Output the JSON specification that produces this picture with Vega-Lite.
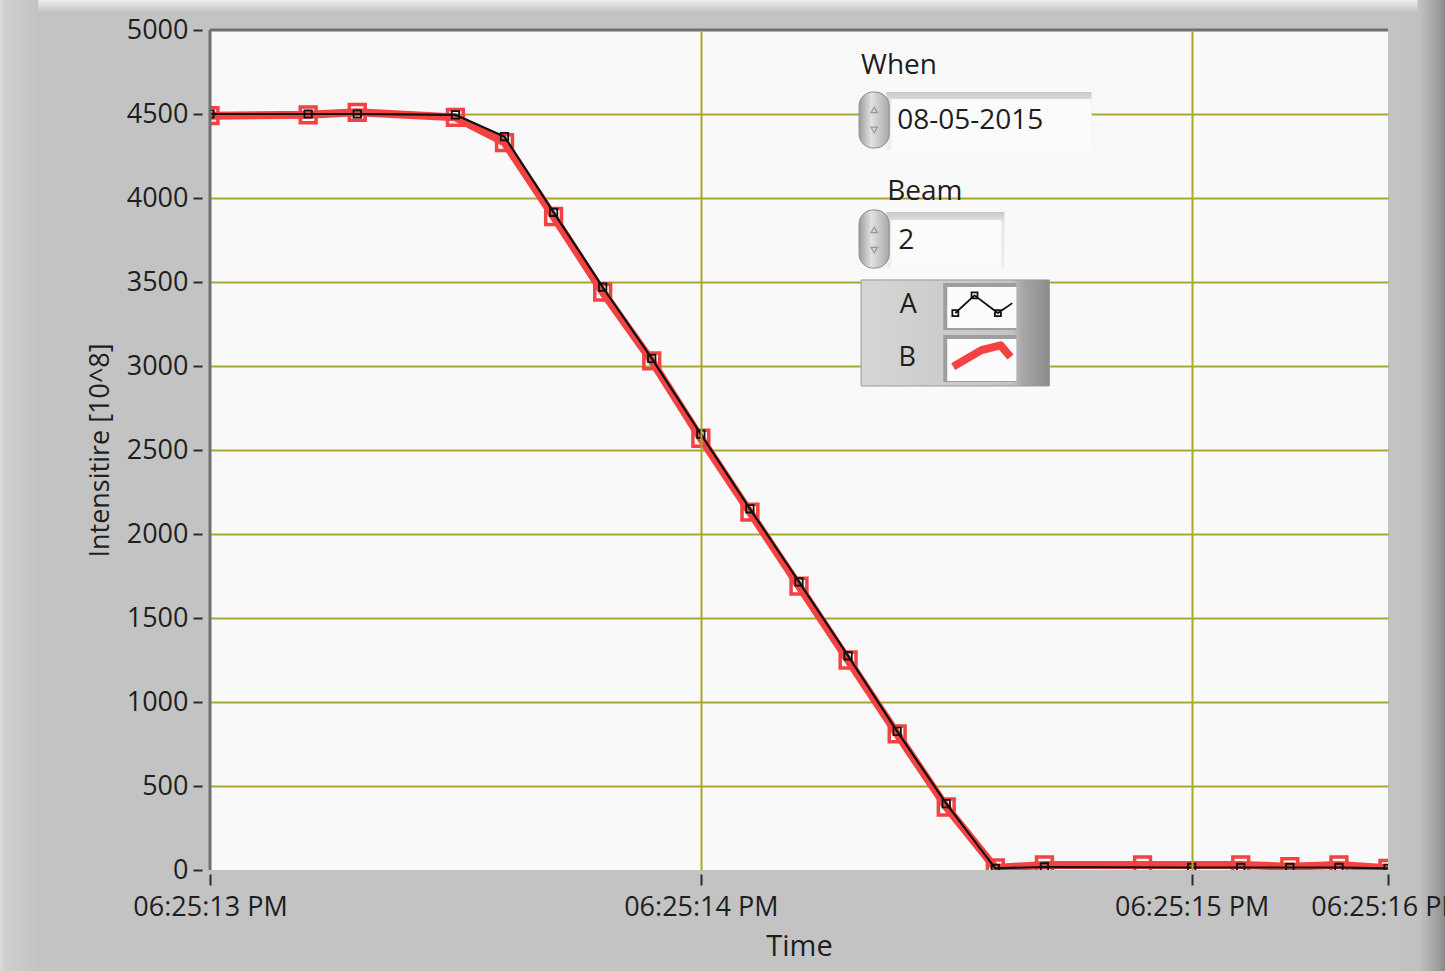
{
  "$schema": "https://vega.github.io/schema/vega-lite/v6.json",
  "width": 1178,
  "height": 840,
  "autosize": {"type": "none"},
  "padding": {"left": 210, "top": 30, "right": 57, "bottom": 101},
  "background": "#c3c3c3",
  "config": {
    "view": {"fill": "#f9f9f9", "stroke": null},
    "font": "Open Sans"
  },
  "datasets": {
    "series": [
      {"t": 13.0, "v": 4500, "s": "A"},
      {"t": 13.2, "v": 4500, "s": "A"},
      {"t": 13.3, "v": 4500, "s": "A"},
      {"t": 13.5, "v": 4495, "s": "A"},
      {"t": 13.6, "v": 4365, "s": "A"},
      {"t": 13.7, "v": 3915, "s": "A"},
      {"t": 13.8, "v": 3470, "s": "A"},
      {"t": 13.9, "v": 3045, "s": "A"},
      {"t": 14.0, "v": 2595, "s": "A"},
      {"t": 14.1, "v": 2150, "s": "A"},
      {"t": 14.2, "v": 1715, "s": "A"},
      {"t": 14.3, "v": 1275, "s": "A"},
      {"t": 14.4, "v": 825, "s": "A"},
      {"t": 14.5, "v": 395, "s": "A"},
      {"t": 14.6, "v": 10, "s": "A"},
      {"t": 14.7, "v": 18, "s": "A"},
      {"t": 15.0, "v": 15, "s": "A"},
      {"t": 15.1, "v": 15, "s": "A"},
      {"t": 15.2, "v": 15, "s": "A"},
      {"t": 15.3, "v": 15, "s": "A"},
      {"t": 15.4, "v": 10, "s": "A"},
      {"t": 13.0, "v": 4490, "s": "B"},
      {"t": 13.2, "v": 4495, "s": "B"},
      {"t": 13.3, "v": 4510, "s": "B"},
      {"t": 13.5, "v": 4480, "s": "B"},
      {"t": 13.6, "v": 4330, "s": "B"},
      {"t": 13.7, "v": 3890, "s": "B"},
      {"t": 13.8, "v": 3440, "s": "B"},
      {"t": 13.9, "v": 3030, "s": "B"},
      {"t": 14.0, "v": 2570, "s": "B"},
      {"t": 14.1, "v": 2130, "s": "B"},
      {"t": 14.2, "v": 1690, "s": "B"},
      {"t": 14.3, "v": 1250, "s": "B"},
      {"t": 14.4, "v": 810, "s": "B"},
      {"t": 14.5, "v": 375, "s": "B"},
      {"t": 14.6, "v": 12, "s": "B"},
      {"t": 14.7, "v": 30, "s": "B"},
      {"t": 14.9, "v": 30, "s": "B"},
      {"t": 15.1, "v": 30, "s": "B"},
      {"t": 15.2, "v": 20, "s": "B"},
      {"t": 15.3, "v": 30, "s": "B"},
      {"t": 15.4, "v": 10, "s": "B"}
    ],
    "one": [{}]
  },
  "data": {"name": "series"},
  "layer": [
    {
      "transform": [{"filter": "datum.s == 'B'"}],
      "mark": {"type": "line", "color": "#f44242", "strokeWidth": 8, "clip": true},
      "encoding": {
        "x": {
          "field": "t", "type": "quantitative",
          "scale": {"domain": [13, 15.4], "nice": false, "zero": false},
          "axis": {
            "title": "Time", "zindex": 1,
            "titleFont": "Open Sans", "titleFontSize": 29, "titleFontWeight": "normal", "titleColor": "#1e1e1e",
            "titlePadding": 12,
            "values": [13, 14, 15, 15.4],
            "labelExpr": "datum.value > 15.3 ? '06:25:16 PM' : '06:25:' + format(datum.value, 'd') + ' PM'",
            "labelFont": "Open Sans", "labelFontSize": 27, "labelColor": "#1e1e1e",
            "labelPadding": 9, "labelOverlap": false, "labelBound": false, "labelFlush": false,
            "domain": false, "offset": 4,
            "ticks": true, "tickSize": 11, "tickColor": "#2a2a2a", "tickWidth": 2,
            "grid": true, "gridColor": "#a9a830", "gridWidth": 2,
            "gridOpacity": {"condition": {"test": "datum.value < 13.5 || datum.value > 15.3", "value": 0}, "value": 1}
          }
        },
        "y": {
          "field": "v", "type": "quantitative",
          "scale": {"domain": [0, 5000], "nice": false},
          "axis": {
            "title": "Intensitire [10^8]",
            "titleFont": "Open Sans", "titleFontSize": 27, "titleFontWeight": "normal", "titleColor": "#1e1e1e",
            "titlePadding": 12,
            "values": [0, 500, 1000, 1500, 2000, 2500, 3000, 3500, 4000, 4500, 5000],
            "format": "d",
            "labelFont": "Open Sans", "labelFontSize": 27, "labelColor": "#1e1e1e",
            "labelPadding": 5,
            "domain": false, "offset": 8,
            "ticks": true, "tickSize": 9, "tickColor": "#2a2a2a", "tickWidth": 2,
            "grid": true, "gridColor": "#a9a830", "gridWidth": 2,
            "gridOpacity": {"condition": {"test": "datum.value == 0 || datum.value == 5000", "value": 0}, "value": 1}
          }
        }
      }
    },
    {
      "transform": [{"filter": "datum.s == 'B'"}],
      "mark": {"type": "point", "shape": "square", "filled": false, "color": "#f44242", "size": 250, "strokeWidth": 3.5, "opacity": 1, "clip": true},
      "encoding": {
        "x": {"field": "t", "type": "quantitative"},
        "y": {"field": "v", "type": "quantitative"}
      }
    },
    {
      "transform": [{"filter": "datum.s == 'A'"}],
      "mark": {"type": "line", "color": "#111111", "strokeWidth": 2.2, "clip": true},
      "encoding": {
        "x": {"field": "t", "type": "quantitative"},
        "y": {"field": "v", "type": "quantitative"}
      }
    },
    {
      "transform": [{"filter": "datum.s == 'A'"}],
      "mark": {"type": "point", "shape": "square", "filled": false, "color": "#111111", "size": 55, "strokeWidth": 1.8, "opacity": 1, "clip": true},
      "encoding": {
        "x": {"field": "t", "type": "quantitative"},
        "y": {"field": "v", "type": "quantitative"}
      }
    },
    {
      "data": {"name": "one"},
      "mark": {"type": "rule", "color": "#707070", "strokeWidth": 3},
      "encoding": {"y": {"datum": 5000, "type": "quantitative"}}
    },
    {
      "data": {"name": "one"},
      "mark": {"type": "rule", "color": "#707070", "strokeWidth": 3},
      "encoding": {"x": {"datum": 13, "type": "quantitative"}}
    },
    {
      "data": {"name": "one"},
      "mark": {"type": "rect", "clip": false, "color": {"gradient": "linear", "x1": 0, "y1": 0, "x2": 1, "y2": 0, "stops": [{"offset": 0, "color": "#c3c3c3"}, {"offset": 0.35, "color": "#c0c0c0"}, {"offset": 0.75, "color": "#9a9a9a"}, {"offset": 1, "color": "#707070"}]}},
      "encoding": {"x": {"datum": 15.43, "type": "quantitative"}, "x2": {"datum": 15.53}, "y": {"datum": 5180, "type": "quantitative"}, "y2": {"datum": -610}}
    },
    {
      "data": {"name": "one"},
      "mark": {"type": "rect", "clip": false, "color": {"gradient": "linear", "x1": 0, "y1": 0, "x2": 0, "y2": 1, "stops": [{"offset": 0, "color": "#f0f0f0"}, {"offset": 0.3, "color": "#e2e2e2"}, {"offset": 1, "color": "#c6c6c6"}]}},
      "encoding": {"x": {"datum": 12.55, "type": "quantitative"}, "x2": {"datum": 15.46}, "y": {"datum": 5180, "type": "quantitative"}, "y2": {"datum": 5110}}
    },
    {
      "data": {"name": "one"},
      "mark": {"type": "rect", "clip": false, "color": {"gradient": "linear", "x1": 0, "y1": 0, "x2": 1, "y2": 0, "stops": [{"offset": 0, "color": "#f0f0f0"}, {"offset": 0.2, "color": "#e0e0e0"}, {"offset": 0.3, "color": "#d0d0d0"}, {"offset": 1, "color": "#c3c3c3"}]}},
      "encoding": {"x": {"datum": 12.55, "type": "quantitative"}, "x2": {"datum": 12.65}, "y": {"datum": 5180, "type": "quantitative"}, "y2": {"datum": -610}}
    },
    {
      "data": {"name": "one"},
      "mark": {"type": "text", "align": "left", "baseline": "middle", "font": "Open Sans", "fontSize": 28, "color": "#1e1e1e", "text": "When"},
      "encoding": {"x": {"datum": 14.3265, "type": "quantitative"}, "y": {"datum": 4786, "type": "quantitative"}}
    },
    {
      "data": {"name": "one"},
      "mark": {"type": "rect", "color": {"gradient": "linear", "x1": 0, "y1": 0, "x2": 0, "y2": 1, "stops": [{"offset": 0, "color": "#c8c8c8"}, {"offset": 0.2, "color": "#e6e6e6"}, {"offset": 1, "color": "#eeeeee"}]}},
      "encoding": {"x": {"datum": 14.3776, "type": "quantitative"}, "x2": {"datum": 14.7959}, "y": {"datum": 4631, "type": "quantitative"}, "y2": {"datum": 4286}}
    },
    {
      "data": {"name": "one"},
      "mark": {"type": "rect", "color": "#fbfbfb"},
      "encoding": {"x": {"datum": 14.3878, "type": "quantitative"}, "x2": {"datum": 14.7959}, "y": {"datum": 4589, "type": "quantitative"}, "y2": {"datum": 4286}}
    },
    {
      "data": {"name": "one"},
      "mark": {"type": "rect", "cornerRadius": 14, "stroke": "#8a8a8a", "strokeWidth": 1, "color": {"gradient": "linear", "x1": 0, "y1": 0, "x2": 1, "y2": 0, "stops": [{"offset": 0, "color": "#9c9c9c"}, {"offset": 0.4, "color": "#e2e2e2"}, {"offset": 1, "color": "#a8a8a8"}]}},
      "encoding": {"x": {"datum": 14.3224, "type": "quantitative"}, "x2": {"datum": 14.3837}, "y": {"datum": 4631, "type": "quantitative"}, "y2": {"datum": 4298}}
    },
    {
      "data": {"name": "one"},
      "mark": {"type": "point", "shape": "triangle-up", "filled": false, "color": "#7a7a7a", "size": 40, "strokeWidth": 1.2},
      "encoding": {"x": {"datum": 14.3531, "type": "quantitative"}, "y": {"datum": 4524, "type": "quantitative"}}
    },
    {
      "data": {"name": "one"},
      "mark": {"type": "point", "shape": "triangle-down", "filled": false, "color": "#7a7a7a", "size": 40, "strokeWidth": 1.2},
      "encoding": {"x": {"datum": 14.3531, "type": "quantitative"}, "y": {"datum": 4405, "type": "quantitative"}}
    },
    {
      "data": {"name": "one"},
      "mark": {"type": "text", "align": "left", "baseline": "middle", "font": "Open Sans", "fontSize": 28, "color": "#1e1e1e", "text": "08-05-2015"},
      "encoding": {"x": {"datum": 14.4, "type": "quantitative"}, "y": {"datum": 4458, "type": "quantitative"}}
    },
    {
      "data": {"name": "one"},
      "mark": {"type": "text", "align": "left", "baseline": "middle", "font": "Open Sans", "fontSize": 28, "color": "#1e1e1e", "text": "Beam"},
      "encoding": {"x": {"datum": 14.3796, "type": "quantitative"}, "y": {"datum": 4036, "type": "quantitative"}}
    },
    {
      "data": {"name": "one"},
      "mark": {"type": "rect", "color": {"gradient": "linear", "x1": 0, "y1": 0, "x2": 0, "y2": 1, "stops": [{"offset": 0, "color": "#c8c8c8"}, {"offset": 0.2, "color": "#e6e6e6"}, {"offset": 1, "color": "#eeeeee"}]}},
      "encoding": {"x": {"datum": 14.3776, "type": "quantitative"}, "x2": {"datum": 14.6184}, "y": {"datum": 3917, "type": "quantitative"}, "y2": {"datum": 3583}}
    },
    {
      "data": {"name": "one"},
      "mark": {"type": "rect", "color": "#fbfbfb"},
      "encoding": {"x": {"datum": 14.3878, "type": "quantitative"}, "x2": {"datum": 14.6122}, "y": {"datum": 3869, "type": "quantitative"}, "y2": {"datum": 3583}}
    },
    {
      "data": {"name": "one"},
      "mark": {"type": "rect", "cornerRadius": 14, "stroke": "#8a8a8a", "strokeWidth": 1, "color": {"gradient": "linear", "x1": 0, "y1": 0, "x2": 1, "y2": 0, "stops": [{"offset": 0, "color": "#9c9c9c"}, {"offset": 0.4, "color": "#e2e2e2"}, {"offset": 1, "color": "#a8a8a8"}]}},
      "encoding": {"x": {"datum": 14.3224, "type": "quantitative"}, "x2": {"datum": 14.3837}, "y": {"datum": 3929, "type": "quantitative"}, "y2": {"datum": 3583}}
    },
    {
      "data": {"name": "one"},
      "mark": {"type": "point", "shape": "triangle-up", "filled": false, "color": "#7a7a7a", "size": 40, "strokeWidth": 1.2},
      "encoding": {"x": {"datum": 14.3531, "type": "quantitative"}, "y": {"datum": 3810, "type": "quantitative"}}
    },
    {
      "data": {"name": "one"},
      "mark": {"type": "point", "shape": "triangle-down", "filled": false, "color": "#7a7a7a", "size": 40, "strokeWidth": 1.2},
      "encoding": {"x": {"datum": 14.3531, "type": "quantitative"}, "y": {"datum": 3690, "type": "quantitative"}}
    },
    {
      "data": {"name": "one"},
      "mark": {"type": "text", "align": "left", "baseline": "middle", "font": "Open Sans", "fontSize": 28, "color": "#1e1e1e", "text": "2"},
      "encoding": {"x": {"datum": 14.402, "type": "quantitative"}, "y": {"datum": 3744, "type": "quantitative"}}
    },
    {
      "data": {"name": "one"},
      "mark": {"type": "rect", "stroke": "#9a9a9a", "strokeWidth": 1, "color": {"gradient": "linear", "x1": 0, "y1": 0, "x2": 1, "y2": 0, "stops": [{"offset": 0, "color": "#d6d6d6"}, {"offset": 0.8, "color": "#c4c4c4"}, {"offset": 0.86, "color": "#a6a6a6"}, {"offset": 1, "color": "#8c8c8c"}]}},
      "encoding": {"x": {"datum": 14.3265, "type": "quantitative"}, "x2": {"datum": 14.7102}, "y": {"datum": 3512, "type": "quantitative"}, "y2": {"datum": 2881}}
    },
    {
      "data": {"name": "one"},
      "mark": {"type": "rect", "color": "#9e9e9e"},
      "encoding": {"x": {"datum": 14.4939, "type": "quantitative"}, "x2": {"datum": 14.6429}, "y": {"datum": 3494, "type": "quantitative"}, "y2": {"datum": 3214}}
    },
    {
      "data": {"name": "one"},
      "mark": {"type": "rect", "color": "#fcfcfc"},
      "encoding": {"x": {"datum": 14.502, "type": "quantitative"}, "x2": {"datum": 14.6429}, "y": {"datum": 3470, "type": "quantitative"}, "y2": {"datum": 3226}}
    },
    {
      "data": {"name": "one"},
      "mark": {"type": "rect", "color": "#9e9e9e"},
      "encoding": {"x": {"datum": 14.4939, "type": "quantitative"}, "x2": {"datum": 14.6429}, "y": {"datum": 3185, "type": "quantitative"}, "y2": {"datum": 2905}}
    },
    {
      "data": {"name": "one"},
      "mark": {"type": "rect", "color": "#fcfcfc"},
      "encoding": {"x": {"datum": 14.502, "type": "quantitative"}, "x2": {"datum": 14.6429}, "y": {"datum": 3161, "type": "quantitative"}, "y2": {"datum": 2911}}
    },
    {
      "data": {"name": "one"},
      "mark": {"type": "text", "align": "center", "baseline": "middle", "font": "Open Sans", "fontSize": 27, "color": "#1e1e1e", "text": "A"},
      "encoding": {"x": {"datum": 14.4224, "type": "quantitative"}, "y": {"datum": 3363, "type": "quantitative"}}
    },
    {
      "data": {"name": "one"},
      "mark": {"type": "text", "align": "center", "baseline": "middle", "font": "Open Sans", "fontSize": 27, "color": "#1e1e1e", "text": "B"},
      "encoding": {"x": {"datum": 14.4204, "type": "quantitative"}, "y": {"datum": 3048, "type": "quantitative"}}
    },
    {
      "data": {"name": "one"},
      "mark": {"type": "point", "filled": false, "color": "#111111", "strokeWidth": 1.8, "opacity": 1, "size": 3600,
        "shape": "M-0.9,0.2L-0.26,-0.39L0.52,0.2L1,-0.13M-1,0.1L-0.8,0.1L-0.8,0.3L-1,0.3Z M-0.36,-0.49L-0.16,-0.49L-0.16,-0.29L-0.36,-0.29Z M0.42,0.1L0.62,0.1L0.62,0.3L0.42,0.3Z"},
      "encoding": {"x": {"datum": 14.5735, "type": "quantitative"}, "y": {"datum": 3351, "type": "quantitative"}}
    },
    {
      "data": {"name": "one"},
      "mark": {"type": "point", "filled": false, "color": "#f44242", "strokeWidth": 8, "strokeJoin": "round", "opacity": 1, "size": 3600,
        "shape": "M-0.97,0.29L-0.03,-0.26L0.61,-0.42L0.94,-0.03"},
      "encoding": {"x": {"datum": 14.5735, "type": "quantitative"}, "y": {"datum": 3048, "type": "quantitative"}}
    }
  ]
}
